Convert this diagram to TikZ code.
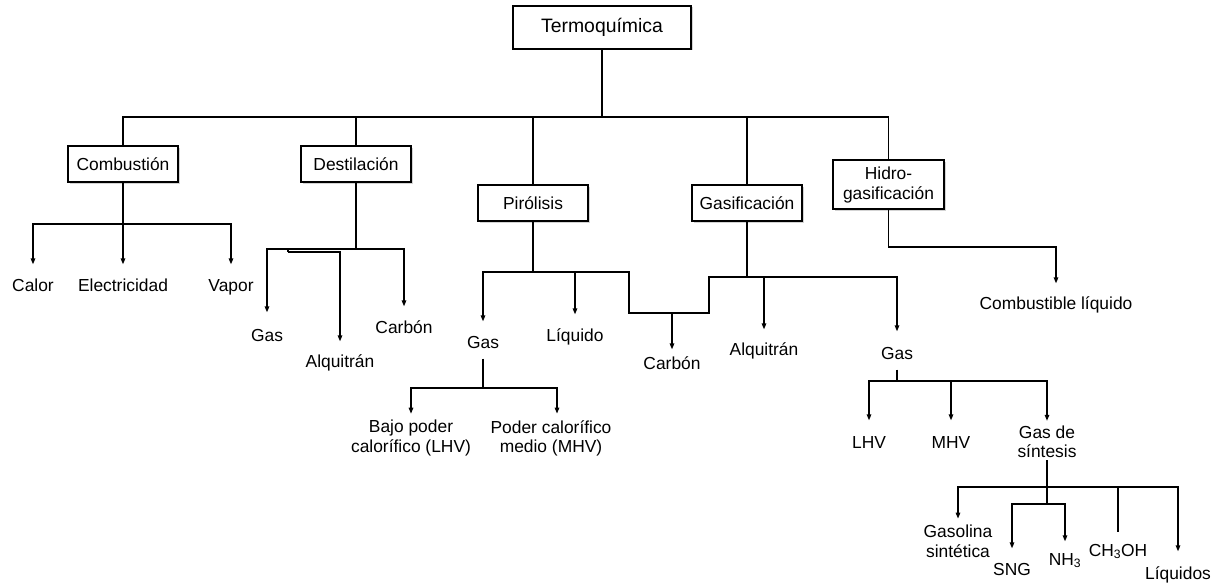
\documentclass[tikz,border=0pt]{standalone}
\usepackage{fontspec}
\setmainfont{Liberation Sans}
\usetikzlibrary{arrows.meta, shadows}

\begin{document}
\begin{tikzpicture}[x=1pt, y=-1pt, line width=1.3pt,
    arr/.style={-{Triangle[length=6pt,width=4.5pt]}}]
\useasboundingbox (0,0) rectangle (1214,583);
%\tikzstyle{box}=[draw,thick]
\begin{scope}[every node/.style={draw, line width=2pt, fill=white, inner sep=0pt, align=center,
    minimum width=110pt, minimum height=36pt, font=\fontsize{17.4}{20}\selectfont,
    drop shadow={shadow xshift=1.5pt, shadow yshift=-1.5pt, opacity=0.35}}]
    \node (termo) at (602,27.5) [minimum width=178pt, minimum height=43pt, font=\fontsize{19.4}{22}\selectfont] {Termoquímica};
    \node (comb) at (123,164) {Combustión};
    \node (dest) at (356,164) {Destilación};
    \node (piro) at (533,203) {Pirólisis};
    \node (gasi) at (747,203) {Gasificación};
    \node (hidro) at (888.5,184.5) [minimum width=111pt, minimum height=49pt] {Hidro-\\gasificación};
\end{scope}

\begin{scope}[every node/.style={inner sep=0pt, text height=13pt, text depth=4pt, font=\fontsize{17.4}{19.5}\selectfont}]
    \node (calor) at (33,286.5) {Calor};
    \node (elec) at (123,286.5) {Electricidad};
    \node (vapor) at (231,286.5) {Vapor};
    \node (gasd) at (267,336.5) {Gas};
    \node (alqd) at (340,362.5) {Alquitrán};
    \node (carbd) at (404,328.5) {Carbón};
    \node (gasp) at (483,343.5) {Gas};
    \node (liq) at (575,336.5) {Líquido};
    \node (carbp) at (672,364.5) {Carbón};
    \node (alqg) at (764,350.5) {Alquitrán};
    \node (gasg) at (897,354.5) {Gas};
    \node (combliq) at (1056,304.5) {Combustible líquido};
    \node (lhv) at (869,443.5) {LHV};
    \node (mhv) at (951,443.5) {MHV};
    \node (sng) at (1012,570.5) {SNG};
    \node (nh3) at (1065,560.5) {NH\textsubscript{3}};
    \node (ch3oh) at (1118,551.5) {CH\textsubscript{3}OH};
    \node (liqs) at (1178,574.5) {Líquidos};
\end{scope}

\begin{scope}[every node/.style={inner sep=0pt, align=center, font=\fontsize{17.4}{19.5}\selectfont}]
    \node (bajo) at (411,438.2) {Bajo poder\\calorífico (LHV)};
    \node (medio) at (551,438.2) {Poder calorífico\\medio (MHV)};
    \node (sint) at (1047,441.6) {Gas de\\síntesis};
    \node (gasol) at (958,541.4) {Gasolina\\sintética};
\end{scope}

% main branches
\coordinate (top) at (602,117);
\draw (termo.south) -- (top);
\foreach \n in {comb,dest,piro,gasi,hidro}
    \draw (\n.north) |- (top);

% combustion
\coordinate (cj) at (123,224);
\draw (comb.south) -- (cj);
\foreach \n/\g in {calor/13,elec/13,vapor/13}
    \draw[arr] (cj) -| ([yshift=\g pt]\n.north);

% destilacion
\coordinate (dj) at (356,249);
\coordinate (dk) at (288,252);
\draw (dest.south) -- (dj);
\draw (dk) -- (dk |- dj);
\foreach \n/\g in {gasd/15,carbd/13}
    \draw[arr] (dj) -| ([yshift=\g pt]\n.north);
\draw[arr] (dk) -| ([yshift=12pt]alqd.north);

% pirolisis and gasificacion
\coordinate (pj) at (533,272);
\coordinate (pk) at (629,313);
\coordinate (gk) at (709,277);
\coordinate (gj) at (747,277);
\draw (piro.south) -- (pj);
\draw (pj) -| (pk) -| (gk) -- (gj);
\foreach \n/\g in {gasp/13,liq/13}
    \draw[arr] (pj) -| ([yshift=\g pt]\n.north);
\draw[arr] (pk) -| ([yshift=6pt]carbp.north);
\draw (gasi.south) -- (gj);
\foreach \n/\g in {alqg/12,gasg/14}
    \draw[arr] (gj) -| ([yshift=\g pt]\n.north);

% hidrogasificacion
\coordinate (hj) at (888.5,247);
\draw[arr] (hidro.south) -- (hj) -| ([yshift=12pt]combliq.north);

% gas de pirolisis
\coordinate (gpj) at (483,388);
\draw ([yshift=-6pt]gasp.south) -- (gpj);
\draw[arr] (gpj) -| ([yshift=6pt]bajo.north);
\draw[arr] (gpj) -| ([xshift=6pt,yshift=6pt]medio.north);

% gas de gasificacion
\coordinate (ggj) at (897,381);
\draw ([yshift=-6pt]gasg.south) -- (ggj);
\foreach \n/\g in {lhv/14,mhv/14,sint/4}
    \draw[arr] (ggj) -| ([yshift=\g pt]\n.north);

% gas de sintesis
\coordinate (sj) at (1047,487);
\coordinate (sk) at (1047,504);
\draw ([yshift=-2pt]sint.south) -- (sj);
\draw[arr] (sj) -| ([yshift=6pt]gasol.north);
\draw (sj) -| ([yshift=10pt]ch3oh.north);
\draw[arr] (sj) -| ([yshift=14pt]liqs.north);
\draw (sj) -- (sk);
\foreach \n/\g in {sng/13,nh3/10}
    \draw[arr] (sk) -| ([yshift=\g pt]\n.north);
\end{tikzpicture}
\end{document}
